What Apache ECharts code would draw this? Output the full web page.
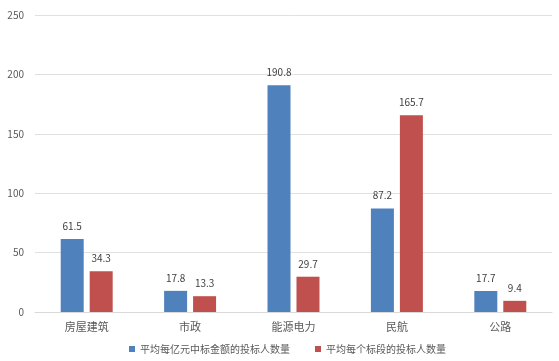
<!DOCTYPE html>
<html><head><meta charset="utf-8">
<script src="https://cdn.jsdelivr.net/npm/echarts@6/dist/echarts.min.js"></script>
<style>html,body{margin:0;padding:0;background:#fff}#c{width:559px;height:361px}</style>
</head><body><div id="c"></div>
<script>
var categories = ['房屋建筑', '市政', '能源电力', '民航', '公路'];
var seriesNames = ['平均每亿元中标金额的投标人数量', '平均每个标段的投标人数量'];
var perBillion = [61.5, 17.8, 190.8, 87.2, 17.7];
var perSection = [34.3, 13.3, 29.7, 165.7, 9.4];
var yTicks = [0, 50, 100, 150, 200, 250];

var font = '"Microsoft YaHei","Noto Sans CJK SC",sans-serif';
var chart = echarts.init(document.getElementById('c'), null, {renderer: 'canvas'});
var labelCfg = {show: true, position: 'top', distance: 8, color: '#404040', fontSize: 10, fontFamily: font,
  formatter: function (p) { return p.value.toFixed(1); }};
chart.setOption({
  animation: false,
  grid: {left: 35, right: 7, top: 15, bottom: 49, containLabel: false},
  legend: {top: 339, left: 124, itemWidth: 6, itemHeight: 6, itemGap: 25, icon: 'rect',
    textStyle: {color: '#595959', fontSize: 10, fontFamily: font}, data: seriesNames},
  xAxis: {type: 'category', data: categories,
    axisLine: {lineStyle: {color: '#d9d9d9'}}, axisTick: {show: false},
    axisLabel: {color: '#595959', fontSize: 11, fontFamily: font, margin: 9}},
  yAxis: {type: 'value', min: yTicks[0], max: yTicks[yTicks.length - 1], interval: 50,
    axisLine: {show: false}, axisTick: {show: false},
    axisLabel: {color: '#595959', fontSize: 10, fontFamily: font, margin: 11},
    splitLine: {lineStyle: {color: '#e0e0e0'}}},
  series: [
    {name: seriesNames[0], type: 'bar', data: perBillion, barWidth: 23, barGap: '26%',
      itemStyle: {color: '#4F81BD'}, label: labelCfg},
    {name: seriesNames[1], type: 'bar', data: perSection, barWidth: 23,
      itemStyle: {color: '#C0504D'}, label: labelCfg}
  ]
});
</script></body></html>
